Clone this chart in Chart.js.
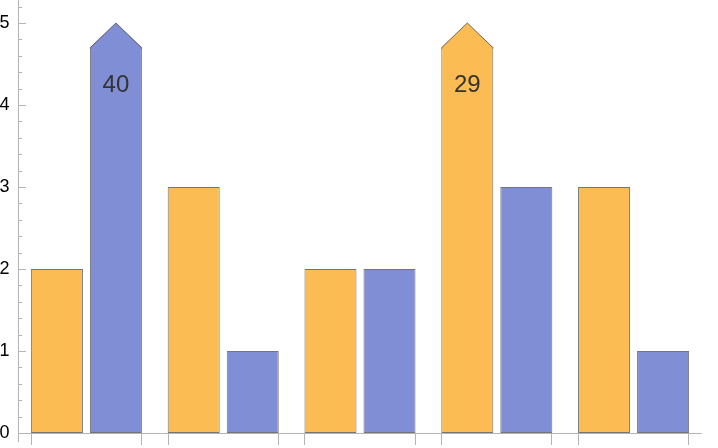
<!DOCTYPE html>
<html>
<head>
<meta charset="utf-8">
<script src="https://cdn.jsdelivr.net/npm/chart.js@4/dist/chart.umd.min.js"></script>
<style>
  html, body { margin: 0; padding: 0; background: #fff; }
  #c { display: block; }
</style>
</head>
<body>
<canvas id="c" width="718" height="448"></canvas>
<script>
// ---- data ----
const categories = ['1', '2', '3', '4', '5'];
const seriesOrange = [2, 3, 2, 29, 3];
const seriesBlue = [40, 1, 2, 3, 1];
const yTickValues = [0, 1, 2, 3, 4, 5];
const yMax = 5.28;
const clipShoulder = 4.7;   // where a clipped bar's arrow head starts
const clipTip = 5;          // arrow tip
const clipLabelAt = 4.24;   // value level for the printed true value

const ORANGE = 'rgb(251,188,83)';
const BLUE = 'rgb(127,142,213)';
const EDGE = 'rgba(70,70,70,0.75)';
const AXIS = '#b4b4b4';

function clipped(arr) { return arr.map(v => Math.min(v, clipShoulder)); }
function borderFor(arr) {
  return ctx => (arr[ctx.dataIndex] > clipShoulder)
    ? { top: 0, left: 1, right: 1, bottom: 1 }
    : 1;
}

const trueValues = [seriesOrange, seriesBlue];

const clipPlugin = {
  id: 'clipPlugin',
  beforeDatasetsDraw(chart) {
    const ctx = chart.ctx;
    const y = chart.scales.y;
    const area = chart.chartArea;
    ctx.save();
    ctx.strokeStyle = AXIS;
    ctx.lineWidth = 1;
    const y0 = Math.round(y.getPixelForValue(0));
    // y axis line
    ctx.beginPath();
    ctx.moveTo(area.left + 0.5, 0);
    ctx.lineTo(area.left + 0.5, y0 + 9);
    ctx.stroke();
    // x axis line
    ctx.beginPath();
    ctx.moveTo(area.left, y0 + 0.5);
    ctx.lineTo(area.right, y0 + 0.5);
    ctx.stroke();
    // y ticks major/minor
    for (let k = 0; k <= 26; k++) {
      const v = k / 5;
      if (v > yMax) break;
      const py = Math.round(y.getPixelForValue(v)) + 0.5;
      const len = (k % 5 === 0) ? 8 : 4;
      ctx.beginPath();
      ctx.moveTo(area.left, py);
      ctx.lineTo(area.left + len, py);
      ctx.stroke();
    }
    // x ticks at group edges (from bar elements)
    const m0 = chart.getDatasetMeta(0), m1 = chart.getDatasetMeta(1);
    categories.forEach((c, i) => {
      const a = m0.data[i], b = m1.data[i];
      const lx = Math.round(a.x - a.width / 2) + 0.5;
      const rx = Math.round(b.x + b.width / 2) - 0.5;
      [lx, rx].forEach(px => {
        ctx.beginPath();
        ctx.moveTo(px, y0);
        ctx.lineTo(px, y0 + 12);
        ctx.stroke();
      });
    });
    ctx.restore();
  },
  afterDatasetsDraw(chart) {
    const ctx = chart.ctx;
    const y = chart.scales.y;
    ctx.save();
    chart.data.datasets.forEach((ds, di) => {
      const meta = chart.getDatasetMeta(di);
      trueValues[di].forEach((v, i) => {
        if (v <= clipShoulder) return;
        const el = meta.data[i];
        const l = el.x - el.width / 2, r = el.x + el.width / 2;
        const sy = y.getPixelForValue(clipShoulder);
        const ty = y.getPixelForValue(clipTip);
        ctx.beginPath();
        ctx.moveTo(l, sy + 1);
        ctx.lineTo(l, sy);
        ctx.lineTo(el.x, ty);
        ctx.lineTo(r, sy);
        ctx.lineTo(r, sy + 1);
        ctx.closePath();
        ctx.fillStyle = ds.backgroundColor;
        ctx.fill();
        ctx.beginPath();
        ctx.moveTo(l + 0.5, sy + 1);
        ctx.lineTo(l + 0.5, sy);
        ctx.lineTo(el.x, ty);
        ctx.lineTo(r - 0.5, sy);
        ctx.lineTo(r - 0.5, sy + 1);
        ctx.strokeStyle = EDGE;
        ctx.lineWidth = 1;
        ctx.stroke();
        ctx.fillStyle = '#333';
        ctx.font = '24px "Liberation Sans", Arial, sans-serif';
        ctx.textAlign = 'center';
        ctx.textBaseline = 'middle';
        ctx.fillText(String(v), el.x, y.getPixelForValue(clipLabelAt));
      });
    });
    ctx.restore();
  }
};

new Chart(document.getElementById('c'), {
  type: 'bar',
  data: {
    labels: categories,
    datasets: [
      {
        data: clipped(seriesOrange),
        backgroundColor: ORANGE,
        borderColor: EDGE,
        borderWidth: borderFor(seriesOrange),
        borderSkipped: false,
        categoryPercentage: 0.863,
        barPercentage: 0.881
      },
      {
        data: clipped(seriesBlue),
        backgroundColor: BLUE,
        borderColor: EDGE,
        borderWidth: borderFor(seriesBlue),
        borderSkipped: false,
        categoryPercentage: 0.863,
        barPercentage: 0.881
      }
    ]
  },
  options: {
    responsive: false,
    devicePixelRatio: 1,
    animation: false,
    layout: { padding: { top: 0, right: 16, left: 0, bottom: 0 } },
    plugins: { legend: { display: false }, tooltip: { enabled: false } },
    scales: {
      x: {
        type: 'category',
        grid: { display: false, drawTicks: false },
        border: { display: false },
        ticks: { display: false },
        afterFit: s => { s.height = 15; s.paddingLeft = 0; s.paddingRight = 0; }
      },
      y: {
        min: 0,
        max: yMax,
        afterBuildTicks: s => { s.ticks = yTickValues.map(v => ({ value: v })); },
        grid: { display: false, drawTicks: false },
        border: { display: false },
        ticks: {
          color: '#000',
          padding: 8.5,
          font: { size: 18, family: '"Liberation Sans", Arial, sans-serif' },
          callback: v => String(v)
        },
        afterFit: s => { s.width = 18; s.paddingTop = 0; s.paddingBottom = 0; }
      }
    }
  },
  plugins: [clipPlugin]
});
</script>
</body>
</html>
